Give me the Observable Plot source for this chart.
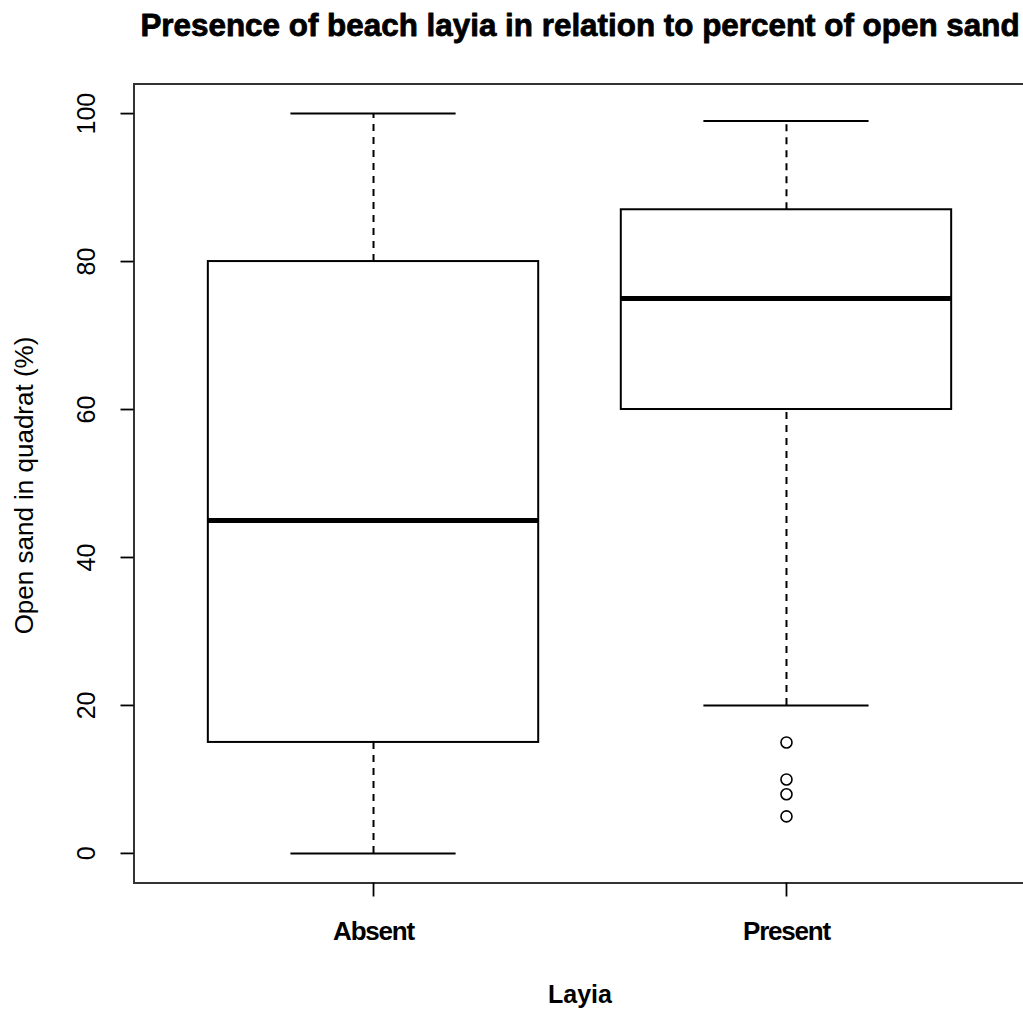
<!DOCTYPE html>
<html>
<head>
<meta charset="utf-8">
<script src="https://cdn.jsdelivr.net/npm/d3@7"></script>
<script src="https://cdn.jsdelivr.net/npm/@observablehq/plot@0.6"></script>
<style>
  html, body { margin: 0; padding: 0; background: #fff; overflow: hidden; }
  g[aria-label="x-axis tick label"] text { letter-spacing: -1.2px; }
</style>
</head>
<body>
<div id="chart"></div>
<script>
const categories = ["Absent", "Present"];
const positions = [1, 2];
const lowerWhisker = [0, 20];
const q1 = [15, 60];
const median = [45, 75];
const q3 = [80, 87];
const upperWhisker = [100, 99];
const outlierGroup = ["Present", "Present", "Present", "Present"];
const outlierValue = [15, 10, 8, 5];
const yTicks = [0, 20, 40, 60, 80, 100];
const title = "Presence of beach layia in relation to percent of open sand";
const xTitle = "Layia";
const yTitle = "Open sand in quadrat (%)";

const groups = categories.map((c, i) => ({
  cat: c, pos: positions[i], lo: lowerWhisker[i], q1: q1[i],
  med: median[i], q3: q3[i], hi: upperWhisker[i]
}));
const outliers = outlierGroup.map((g, i) => ({
  pos: positions[categories.indexOf(g)], value: outlierValue[i]
}));

const font = "Liberation Sans, Arial, Helvetica, sans-serif";

const chart = Plot.plot({
  width: 1040,
  height: 1011,
  marginLeft: 133.5,
  marginRight: 14.5,
  marginTop: 83.5,
  marginBottom: 128.5,
  style: { fontFamily: font, color: "#000", background: "#fff", maxWidth: "none", overflow: "visible" },
  x: { domain: [0.42, 2.58], axis: null },
  y: { domain: [-4, 104], axis: null },
  marks: [
    // whiskers (dashed)
    Plot.ruleX(groups, { x: "pos", y1: "q3", y2: "hi", stroke: "#000", strokeWidth: 2, strokeDasharray: "7,6" }),
    Plot.ruleX(groups, { x: "pos", y1: "lo", y2: "q1", stroke: "#000", strokeWidth: 2, strokeDasharray: "7,6" }),
    // whisker caps
    Plot.ruleY(groups, { y: "hi", x1: d => d.pos - 0.2, x2: d => d.pos + 0.2, stroke: "#000", strokeWidth: 2 }),
    Plot.ruleY(groups, { y: "lo", x1: d => d.pos - 0.2, x2: d => d.pos + 0.2, stroke: "#000", strokeWidth: 2 }),
    // boxes
    Plot.rect(groups, { x1: d => d.pos - 0.4, x2: d => d.pos + 0.4, y1: "q1", y2: "q3", fill: "#fff", stroke: "#000", strokeWidth: 2 }),
    // medians
    Plot.ruleY(groups, { y: "med", x1: d => d.pos - 0.4, x2: d => d.pos + 0.4, stroke: "#000", strokeWidth: 5 }),
    // outliers
    Plot.dot(outliers, { x: "pos", y: "value", r: 5.5, stroke: "#000", strokeWidth: 1.6, fill: "none" }),
    // frame
    Plot.frame({ stroke: "#333", strokeWidth: 2 }),
    // y axis ticks
    Plot.axisY({ ticks: yTicks, tickSize: 13, tickFormat: () => "", label: null, stroke: "#000", strokeWidth: 1.8 }),
    Plot.text(yTicks, { frameAnchor: "left", y: d => d, text: d => String(d), rotate: -90, dx: -47, textAnchor: "middle", lineAnchor: "middle", fontSize: 25, fill: "#000" }),
    // x axis ticks + labels
    Plot.axisX({ ticks: positions, tickSize: 14, tickPadding: 25, label: null, tickFormat: d => categories[positions.indexOf(d)], fontSize: 26, fontWeight: "bold", stroke: "#000", strokeWidth: 1.8, fill: "#000" }),
    // titles
    Plot.text([title], { frameAnchor: "top", lineAnchor: "top", dy: -70, fontSize: 31.4, fontWeight: "bold", fill: "#000", stroke: "#000", strokeWidth: 0.8 }),
    Plot.text([xTitle], { frameAnchor: "bottom", lineAnchor: "bottom", dy: 120, fontSize: 25, fontWeight: "bold", fill: "#000" }),
    Plot.text([yTitle], { frameAnchor: "left", dx: -109.5, dy: 2, rotate: -90, textAnchor: "middle", lineAnchor: "middle", fontSize: 26, fill: "#000" })
  ]
});
document.getElementById("chart").appendChild(chart);
</script>
</body>
</html>
